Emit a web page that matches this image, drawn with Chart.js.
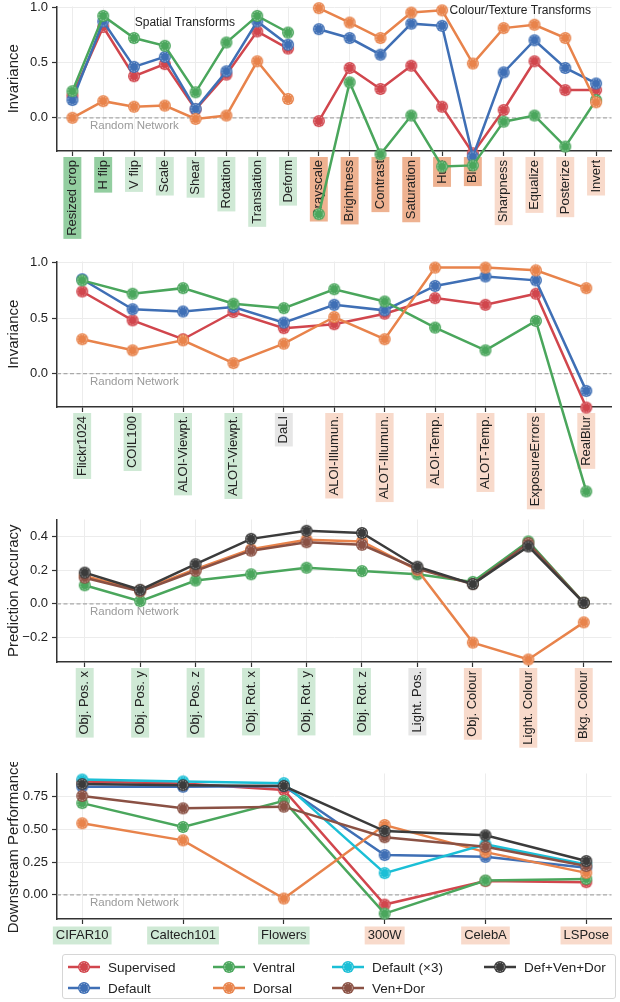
<!DOCTYPE html>
<html>
<head>
<meta charset="utf-8">
<script src="https://cdn.jsdelivr.net/npm/chart.js@4.4.0/dist/chart.umd.min.js"></script>
<style>
  body { margin: 0; background: #fff; }
  #fig { position: relative; width: 620px; height: 1002px; overflow: hidden; font-family: "Liberation Sans", Arial, sans-serif; }
  #fig canvas.panel { position: absolute; left: 0; }
  #legend { position: absolute; left: 62px; top: 954px; width: 554px; height: 45px; border: 1px solid #d6d6d6; border-radius: 3px; box-sizing: border-box; }
  .item { position: absolute; display: flex; align-items: center; font-size: 13.5px; color: #222; white-space: nowrap; }
  .item canvas { margin-right: 8px; }
</style>
</head>
<body>
<div id="fig">
  <canvas class="panel" id="transformChart"></canvas>
  <canvas class="panel" id="datasetChart"></canvas>
  <canvas class="panel" id="factorChart"></canvas>
  <canvas class="panel" id="taskChart"></canvas>
  <div id="legend"></div>
</div>
<script>
// ---- data ----
const transforms = ["Resized crop", "H flip", "V flip", "Scale", "Shear", "Rotation", "Translation", "Deform",
  "Grayscale", "Brightness", "Contrast", "Saturation", "Hue", "Blur", "Sharpness", "Equalize", "Posterize", "Invert"];
const transformGroups = ["sd", "sd", "s", "s", "s", "s", "s", "s", "cd", "cd", "cd", "cd", "cd", "cd", "c", "c", "c", "c"];
const transformSupervised = [0.20, 0.82, 0.375, 0.485, 0.075, 0.39, 0.78, 0.625, -0.03, 0.45, 0.26, 0.47, 0.10, -0.32, 0.07, 0.51, 0.25, 0.25];
const transformDefault = [0.16, 0.87, 0.46, 0.55, 0.08, 0.42, 0.87, 0.66, 0.80, 0.72, 0.57, 0.85, 0.83, -0.35, 0.41, 0.70, 0.45, 0.31];
const transformVentral = [0.24, 0.92, 0.72, 0.65, 0.23, 0.68, 0.92, 0.77, -0.87, 0.32, -0.33, 0.02, -0.44, -0.43, -0.035, 0.02, -0.26, 0.16];
const transformDorsal = [0.0, 0.15, 0.10, 0.11, -0.01, 0.02, 0.51, 0.17, 0.99, 0.86, 0.72, 0.95, 0.97, 0.49, 0.81, 0.84, 0.72, 0.14];

const datasetNames = ["Flickr1024", "COIL100", "ALOI-Viewpt.", "ALOT-Viewpt.", "DaLI", "ALOI-Illumun.", "ALOT-Illumun.",
  "ALOI-Temp.", "ALOT-Temp.", "ExposureErrors", "RealBlur"];
const datasetGroups = ["s", "s", "s", "s", "n", "c", "c", "c", "c", "c", "c"];
const datasetSupervised = [0.74, 0.48, 0.31, 0.555, 0.41, 0.445, 0.54, 0.68, 0.62, 0.72, -0.305];
const datasetDefault = [0.85, 0.58, 0.56, 0.60, 0.46, 0.62, 0.57, 0.79, 0.875, 0.84, -0.155];
const datasetVentral = [0.84, 0.72, 0.77, 0.63, 0.59, 0.76, 0.65, 0.415, 0.21, 0.475, -1.06];
const datasetDorsal = [0.31, 0.21, 0.30, 0.095, 0.27, 0.51, 0.31, 0.955, 0.955, 0.93, 0.77];

const factors = ["Obj. Pos. x", "Obj. Pos. y", "Obj. Pos. z", "Obj. Rot. x", "Obj. Rot. y", "Obj. Rot. z",
  "Light. Pos.", "Obj. Colour", "Light. Colour", "Bkg. Colour"];
const factorGroups = ["s", "s", "s", "s", "s", "s", "n", "c", "c", "c"];
const factorVentral = [0.11, 0.016, 0.138, 0.175, 0.214, 0.194, 0.175, 0.13, 0.37, 0.006];
const factorDorsal = [0.165, 0.08, 0.205, 0.323, 0.38, 0.37, 0.20, -0.23, -0.33, -0.11];
const factorVenDor = [0.155, 0.074, 0.196, 0.315, 0.365, 0.35, 0.208, 0.117, 0.36, 0.006];
const factorDefVenDor = [0.185, 0.083, 0.235, 0.385, 0.433, 0.42, 0.22, 0.117, 0.34, 0.006];

const tasks = ["CIFAR10", "Caltech101", "Flowers", "300W", "CelebA", "LSPose"];
const taskGroups = ["s", "s", "s", "c", "c", "c"];
const taskSupervised = [0.865, 0.85, 0.80, -0.074, 0.105, 0.097];
const taskDefault = [0.825, 0.825, 0.83, 0.304, 0.29, 0.207];
const taskVentral = [0.70, 0.518, 0.717, -0.143, 0.11, 0.122];
const taskDorsal = [0.546, 0.416, -0.028, 0.533, 0.326, 0.168];
const taskDefault3 = [0.88, 0.865, 0.852, 0.166, 0.385, 0.232];
const taskVenDor = [0.755, 0.66, 0.673, 0.44, 0.367, 0.22];
const taskDefVenDor = [0.845, 0.837, 0.83, 0.487, 0.454, 0.258];

const invarianceTicks = [0, 0.5, 1.0];
const accuracyTicks = [-0.2, 0, 0.2, 0.4];
const performanceTicks = [0, 0.25, 0.5, 0.75];

// ---- style ----
const colors = {
  supervised: "#d1464d",
  default: "#3f6fb5",
  ventral: "#4aa65c",
  dorsal: "#e8834b",
  default3: "#1bbfd6",
  venDor: "#8a5144",
  defVenDor: "#3b3b3b"
};
const boxColors = { sd: "#93cea0", s: "#cfe9d5", cd: "#eeb291", c: "#f8dacb", n: "#e6e6e6" };
const fontFamily = '"Liberation Sans", Arial, sans-serif';
const markerCache = {};

function marker(color) {
  if (markerCache[color]) return markerCache[color];
  const c = document.createElement("canvas");
  c.width = 14;
  c.height = 14;
  const g = c.getContext("2d");
  g.fillStyle = color;
  g.beginPath();
  g.arc(7, 7, 6, 0, Math.PI * 2);
  g.fill();
  g.strokeStyle = "rgba(255,255,255,0.65)";
  g.lineWidth = 0.8;
  g.setLineDash([1.6, 1.2]);
  g.beginPath();
  g.arc(7, 7, 4.4, 0, Math.PI * 2);
  g.stroke();
  markerCache[color] = c;
  return c;
}

function series(label, data, color, i, gapAfter) {
  return {
    label,
    data,
    borderColor: color,
    backgroundColor: color,
    borderWidth: 2.5,
    pointStyle: marker(color),
    pointRadius: 6,
    pointHoverRadius: 6,
    tension: 0,
    clip: false,
    order: -i,
    segment: gapAfter === undefined ? {} : {
      borderColor: (ctx) => (ctx.p0DataIndex === gapAfter ? "rgba(0,0,0,0)" : undefined)
    }
  };
}

function fmt(v, digits) {
  const s = Math.abs(v).toFixed(digits);
  return (v < -1e-9 ? "\u2212" : "") + s;
}

const refLine = {
  id: "refLine",
  beforeDatasetsDraw(chart, args, opts) {
    const { ctx, chartArea: a, scales } = chart;
    const py = scales.y.getPixelForValue(0);
    ctx.save();
    ctx.strokeStyle = "#a9a9a9";
    ctx.lineWidth = 1.2;
    ctx.setLineDash([4, 2.5]);
    ctx.beginPath();
    ctx.moveTo(a.left, py);
    ctx.lineTo(a.right, py);
    ctx.stroke();
    ctx.setLineDash([]);
    ctx.fillStyle = "#9a9a9a";
    ctx.font = `11.5px ${fontFamily}`;
    ctx.textBaseline = "middle";
    ctx.textAlign = "left";
    ctx.fillText("Random Network", a.left + 33, py + 8);
    ctx.restore();
  },
  afterDatasetsDraw(chart, args, opts) {
    const { ctx, scales, chartArea: a } = chart;
    // points that fall outside the plot area are skipped by Chart.js; draw them at the positions it computed
    chart.getSortedVisibleDatasetMetas().slice().reverse().forEach((meta) => {
      const img = marker(chart.data.datasets[meta.index].borderColor);
      meta.data.forEach((el) => {
        if (el.y > a.bottom + 6 || el.y < a.top - 6) {
          ctx.drawImage(img, el.x - 7, el.y - 7);
        }
      });
    });
    const notes = opts.notes || [];
    ctx.save();
    ctx.fillStyle = "#222";
    ctx.font = `12px ${fontFamily}`;
    ctx.textBaseline = "middle";
    notes.forEach((n) => {
      ctx.textAlign = n.align;
      ctx.fillText(n.text, scales.x.getPixelForValue(n.x), scales.y.getPixelForValue(n.y));
    });
    ctx.restore();
  }
};

function makePanel(id, p) {
  const canvas = document.getElementById(id);
  const padTop = 10;
  const areaTop = p.zero - p.yMax * p.ppu;
  const areaH = (p.yMax - p.yMin) * p.ppu;
  const h = Math.round(padTop + areaH + p.xh);
  canvas.width = 620;
  canvas.height = h;
  canvas.style.width = "620px";
  canvas.style.height = h + "px";
  canvas.style.top = Math.round(areaTop - padTop) + "px";

  const tickFont = { size: 13, family: fontFamily, lineHeight: 1.15 };
  const grid = { color: "#ececec", lineWidth: 1, offset: false, drawTicks: true, tickLength: 5, tickColor: "#333", tickWidth: 1.2 };
  const border = { color: "#333", width: 1.5 };

  const xTicks = {
    autoSkip: false,
    minRotation: p.rotate ? 90 : 0,
    maxRotation: p.rotate ? 90 : 0,
    padding: 4,
    color: "#222",
    font: tickFont,
    showLabelBackdrop: true,
    backdropColor: (c) => boxColors[p.groups[c.index]],
    backdropPadding: { top: 1.5, bottom: 1.5, left: 3, right: 3 },
    labelOffset: p.rotate ? -7.5 : 0
  };

  let xScale;
  if (p.linearX) {
    xScale = {
      type: "linear",
      min: -0.25,
      max: p.labels.length - 0.75,
      afterBuildTicks: (s) => { s.ticks = p.labels.map((_, i) => ({ value: i })); },
      afterFit: (s) => { s.height = p.xh; },
      ticks: { ...xTicks, callback: (v) => p.labels[v] },
      grid,
      border
    };
  } else {
    xScale = {
      type: "category",
      offset: true,
      afterFit: (s) => { s.height = p.xh; },
      ticks: xTicks,
      grid,
      border
    };
  }

  return new Chart(canvas, {
    type: "line",
    data: {
      labels: p.linearX ? p.labels.map((_, i) => i) : p.labels,
      datasets: p.datasets
    },
    options: {
      responsive: false,
      animation: false,
      events: [],
      devicePixelRatio: 1,
      layout: { padding: { top: padTop, right: 1, left: 0, bottom: 0 } },
      scales: {
        x: xScale,
        y: {
          min: p.yMin,
          max: p.yMax,
          afterFit: (s) => { s.width = 57; },
          afterBuildTicks: (s) => { s.ticks = p.yTicks.map((v) => ({ value: v })); },
          ticks: { callback: (v) => fmt(v, p.digits), padding: 4, color: "#222", font: tickFont },
          grid,
          border,
          title: { display: true, text: p.yTitle, color: "#222", font: { size: 15, family: fontFamily }, padding: { top: 5, bottom: 0 } }
        }
      },
      plugins: {
        legend: { display: false },
        tooltip: { enabled: false },
        refLine: { notes: p.notes || [] }
      }
    },
    plugins: [refLine]
  });
}

makePanel("transformChart", {
  labels: transforms,
  groups: transformGroups,
  rotate: true,
  zero: 118, ppu: 112, yMin: -0.3, yMax: 1.005,
  xh: 95, yTicks: invarianceTicks, digits: 1, yTitle: "Invariance",
  datasets: [
    series("Supervised", transformSupervised, colors.supervised, 0, 7),
    series("Default", transformDefault, colors.default, 1, 7),
    series("Ventral", transformVentral, colors.ventral, 2, 7),
    series("Dorsal", transformDorsal, colors.dorsal, 3, 7)
  ],
  notes: [
    { text: "Spatial Transforms", x: 3.65, y: 0.857, align: "center" },
    { text: "Colour/Texture Transforms", x: 12.24, y: 0.964, align: "left" }
  ]
});

makePanel("datasetChart", {
  labels: datasetNames,
  groups: datasetGroups,
  rotate: true,
  zero: 373, ppu: 112, yMin: -0.3, yMax: 1.01,
  xh: 110, yTicks: invarianceTicks, digits: 1, yTitle: "Invariance",
  datasets: [
    series("Supervised", datasetSupervised, colors.supervised, 0),
    series("Default", datasetDefault, colors.default, 1),
    series("Ventral", datasetVentral, colors.ventral, 2),
    series("Dorsal", datasetDorsal, colors.dorsal, 3)
  ]
});

makePanel("factorChart", {
  labels: factors,
  groups: factorGroups,
  rotate: true,
  zero: 603, ppu: 170, yMin: -0.345, yMax: 0.50,
  xh: 100, yTicks: accuracyTicks, digits: 1, yTitle: "Prediction Accuracy",
  datasets: [
    series("Ventral", factorVentral, colors.ventral, 0),
    series("Dorsal", factorDorsal, colors.dorsal, 1),
    series("Ven+Dor", factorVenDor, colors.venDor, 2),
    series("Def+Ven+Dor", factorDefVenDor, colors.defVenDor, 3)
  ]
});

makePanel("taskChart", {
  labels: tasks,
  groups: taskGroups,
  rotate: false,
  linearX: true,
  zero: 894, ppu: 132, yMin: -0.184, yMax: 0.926,
  xh: 32, yTicks: performanceTicks, digits: 2, yTitle: "Downstream Performance",
  datasets: [
    series("Supervised", taskSupervised, colors.supervised, 0),
    series("Default", taskDefault, colors.default, 1),
    series("Ventral", taskVentral, colors.ventral, 2),
    series("Dorsal", taskDorsal, colors.dorsal, 3),
    series("Default (\u00d73)", taskDefault3, colors.default3, 4),
    series("Ven+Dor", taskVenDor, colors.venDor, 5),
    series("Def+Ven+Dor", taskDefVenDor, colors.defVenDor, 6)
  ]
});

// legend, laid out column-wise like the original
const legendItems = [
  { label: "Supervised", color: colors.supervised, col: 0, row: 0 },
  { label: "Default", color: colors.default, col: 0, row: 1 },
  { label: "Ventral", color: colors.ventral, col: 1, row: 0 },
  { label: "Dorsal", color: colors.dorsal, col: 1, row: 1 },
  { label: "Default (\u00d73)", color: colors.default3, col: 2, row: 0 },
  { label: "Ven+Dor", color: colors.venDor, col: 2, row: 1 },
  { label: "Def+Ven+Dor", color: colors.defVenDor, col: 3, row: 0 }
];
const legendCols = [5, 150, 269, 421];
const legendRows = [12, 33];

const legend = document.getElementById("legend");
legendItems.forEach((item) => {
  const div = document.createElement("div");
  div.className = "item";
  div.style.left = legendCols[item.col] + "px";
  div.style.top = legendRows[item.row] - 8 + "px";
  div.style.height = "16px";
  const c = document.createElement("canvas");
  c.width = 32;
  c.height = 16;
  const g = c.getContext("2d");
  g.strokeStyle = item.color;
  g.lineWidth = 2.5;
  g.beginPath();
  g.moveTo(0, 8);
  g.lineTo(32, 8);
  g.stroke();
  g.drawImage(marker(item.color), 9, 1);
  div.appendChild(c);
  const span = document.createElement("span");
  span.textContent = item.label;
  div.appendChild(span);
  legend.appendChild(div);
});
</script>
</body>
</html>
